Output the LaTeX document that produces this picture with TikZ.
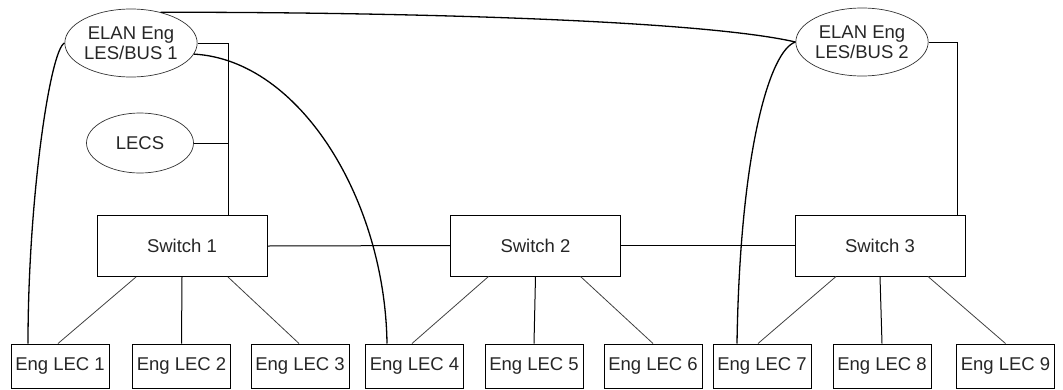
\documentclass[tikz,border=0pt]{standalone}
\usepackage{fontspec}
\setmainfont{Liberation Sans}
\usetikzlibrary{shapes.geometric}
\begin{document}
\begin{tikzpicture}[x=1pt,y=-1pt,
  every node/.style={font=\fontsize{18.5}{20.5}\selectfont, text=black!85},
  oval/.style={ellipse, draw=black!80, line width=0.7pt, inner sep=0pt},
  swbox/.style={draw=black, line width=1pt, minimum width=170pt, minimum height=61pt, inner sep=0pt},
  lecbox/.style={draw=black, line width=1pt, minimum width=98pt, minimum height=44pt, inner sep=0pt},
  wire/.style={draw=black, line width=1pt},
  thin/.style={draw=black!75, line width=0.8pt},
  cable/.style={draw=black, line width=1.3pt}]
\useasboundingbox (0,0) rectangle (1063,389);

\node[oval, minimum width=124pt, minimum height=68pt, align=center] (e1) at (131,43) {ELAN Eng\\LES/BUS 1};
\node[oval, minimum width=121pt, minimum height=68pt, align=center] (e2) at (862,42) {ELAN Eng\\LES/BUS 2};
\node[oval, minimum width=107pt, minimum height=60pt] (lecs) at (140,143) {LECS};

\node[swbox] (sw1) at (182,246) {Switch 1};
\node[swbox] (sw2) at (535.5,245.5) {Switch 2};
\node[swbox] (sw3) at (880,245.5) {Switch 3};

\node[lecbox] (l1) at (60,366) {Eng LEC 1};
\node[lecbox] (l2) at (181.5,366) {Eng LEC 2};
\node[lecbox] (l3) at (300,366) {Eng LEC 3};
\node[lecbox] (l4) at (414.5,366) {Eng LEC 4};
\node[lecbox] (l5) at (534,366) {Eng LEC 5};
\node[lecbox] (l6) at (653,366) {Eng LEC 6};
\node[lecbox] (l7) at (762,366) {Eng LEC 7};
\node[lecbox] (l8) at (882,366) {Eng LEC 8};
\node[lecbox] (l9) at (1005.5,366) {Eng LEC 9};

% bus links ELAN 1 / LECS -> Switch 1
\coordinate (j1) at ([xshift=46pt]sw1.north);
\path[wire] (e1.east) -| (j1);
\path[wire] (lecs.east) -- (lecs.east -| j1);
% ELAN 2 -> Switch 3
\coordinate (j3) at ([xshift=77pt]sw3.north);
\path[wire] (e2.east) -| (j3);

% switch chain
\path[wire] (sw1.east) -- (sw2.west);
\path[wire] (sw2.east) -- (sw3.west);

% switches to LECs
\path[thin] ([xshift=-46pt]sw1.south) -- ([xshift=-2pt]l1.north);
\path[wire] (sw1.south) -- (l2.north);
\path[thin] ([xshift=46pt]sw1.south) -- ([xshift=-1pt]l3.north);
\path[thin] ([xshift=-47pt]sw2.south) -- ([xshift=-2.5pt]l4.north);
\path[wire] (sw2.south) -- (l5.north);
\path[thin] ([xshift=45pt]sw2.south) -- (l6.north);
\path[thin] ([xshift=-44pt]sw3.south) -- ([xshift=-4pt]l7.north);
\path[wire] (sw3.south) -- (l8.north);
\path[thin] ([xshift=48pt]sw3.south) -- (l9.north);

% ELAN cables
\path[cable] (e1.46) .. controls (400,12) and (700,20) .. (e2.west);
\path[cable] (e1.west) .. controls (50,50) and (28,200) .. ([xshift=-32pt]l1.north);
\path[cable] (e1.-10) .. controls (300,60) and (385,200) .. ([xshift=-27.5pt]l4.north);
\path[cable] (e2.west) .. controls (770,50) and (740,150) .. ([xshift=-25pt]l7.north);
\end{tikzpicture}
\end{document}
